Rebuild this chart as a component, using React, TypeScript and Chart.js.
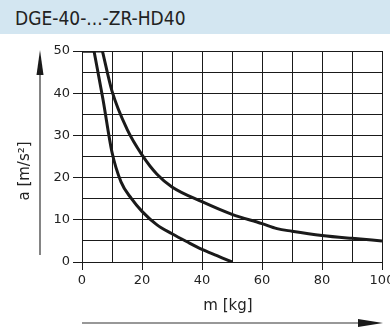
import React, { useEffect, useRef } from "react";
import { Chart, registerables } from "chart.js";

Chart.register(...registerables);

const title = "DGE-40-...-ZR-HD40";
const xTitle = "m [kg]";
const yTitle = "a [m/s²]";

// inner curve (smaller load)
const innerFlatX = [0, 4];
const innerFlatY = [50, 50];
const innerX = [4, 7, 10, 13, 16.5, 20, 25, 30, 35, 40, 45, 50];
const innerY = [50, 38.5, 26, 19, 15, 12, 8.8, 6.7, 4.8, 3, 1.5, 0];

// outer curve
const outerFlatX = [0, 6.8];
const outerFlatY = [50, 50];
const outerX = [6.8, 10, 15, 20, 25, 30, 40, 50, 60, 65, 70, 80, 90, 100];
const outerY = [50, 40.5, 31.5, 25.4, 20.8, 17.8, 14.3, 11.3, 9.1, 7.9, 7.3, 6.3, 5.6, 5];

const toPts = (xs: number[], ys: number[]) => xs.map((x, i) => ({ x, y: ys[i] }));

const FONT = "'DejaVu Sans', sans-serif";
const INK = "#1a1a1a";

const decor = {
  id: "decor",
  afterDraw(chart: any) {
    const { ctx, chartArea } = chart;
    ctx.save();
    ctx.fillStyle = INK;
    ctx.strokeStyle = "#333";
    // y arrow
    ctx.lineWidth = 1.2;
    ctx.beginPath();
    ctx.moveTo(40, 72);
    ctx.lineTo(40, chartArea.bottom - 7);
    ctx.stroke();
    ctx.beginPath();
    ctx.moveTo(40, chartArea.top - 1);
    ctx.lineTo(36.5, 75);
    ctx.lineTo(43.5, 75);
    ctx.closePath();
    ctx.fill();
    // y title
    ctx.save();
    ctx.translate(25, 171);
    ctx.rotate(-Math.PI / 2);
    ctx.font = `15px ${FONT}`;
    ctx.textAlign = "center";
    ctx.textBaseline = "middle";
    ctx.fillStyle = "#222";
    ctx.fillText(yTitle, 0, 0);
    ctx.restore();
    // x title
    ctx.font = `15px ${FONT}`;
    ctx.textAlign = "center";
    ctx.textBaseline = "middle";
    ctx.fillStyle = "#222";
    ctx.fillText(xTitle, 228, 306);
    // x arrow
    ctx.strokeStyle = "#333";
    ctx.beginPath();
    ctx.moveTo(chartArea.left, 323);
    ctx.lineTo(360, 323);
    ctx.stroke();
    ctx.fillStyle = INK;
    ctx.beginPath();
    ctx.moveTo(chartArea.right + 1, 323);
    ctx.lineTo(358, 319);
    ctx.lineTo(358, 327);
    ctx.closePath();
    ctx.fill();
    ctx.restore();
  },
};

export default function App() {
  const ref = useRef<HTMLCanvasElement>(null);
  useEffect(() => {
    document.body.style.margin = "0";
    const lineDs = (xs: number[], ys: number[], tension: boolean) => ({
      data: toPts(xs, ys),
      borderColor: INK,
      borderWidth: 3,
      pointRadius: 0,
      fill: false,
      cubicInterpolationMode: tension ? "monotone" : "default",
      tension: 0,
    });
    const chart = new Chart(ref.current!, {
      type: "line",
      data: {
        datasets: [
          lineDs(innerFlatX, innerFlatY, false),
          lineDs(innerX, innerY, true),
          lineDs(outerFlatX, outerFlatY, false),
          lineDs(outerX, outerY, true),
        ] as any,
      },
      options: {
        animation: false,
        responsive: false,
        layout: { padding: { left: 0, top: 51, right: 8, bottom: 0 } },
        plugins: { legend: { display: false }, tooltip: { enabled: false } },
        scales: {
          x: {
            type: "linear",
            min: 0,
            max: 100,
            ticks: {
              stepSize: 10,
              autoSkip: false,
              maxRotation: 0,
              padding: 3,
              color: "#222",
              font: { family: FONT, size: 13 },
              callback: (v: any) => (v % 20 === 0 ? String(v) : ""),
            },
            grid: {
              color: INK,
              lineWidth: 1,
              tickLength: 8,
              tickColor: (c: any) => (c.tick && c.tick.value % 20 === 0 ? INK : "rgba(0,0,0,0)"),
            },
            border: { display: true, color: INK, width: 1 },
            afterFit: (s: any) => {
              s.height = 333 - 262;
              s.paddingLeft = 0;
              s.paddingRight = 0;
            },
          },
          y: {
            min: 0,
            max: 50,
            ticks: {
              stepSize: 5,
              autoSkip: false,
              padding: 3,
              color: "#222",
              font: { family: FONT, size: 13 },
              callback: (v: any) => (v % 10 === 0 ? String(v) : ""),
            },
            grid: {
              color: INK,
              lineWidth: 1,
              tickLength: 9,
              tickColor: (c: any) => (c.tick && c.tick.value % 10 === 0 ? INK : "rgba(0,0,0,0)"),
            },
            border: { display: true, color: INK, width: 1 },
            afterFit: (s: any) => {
              s.width = 82;
              s.paddingTop = 0;
              s.paddingBottom = 0;
            },
          },
        },
      } as any,
      plugins: [decor],
    });
    return () => chart.destroy();
  }, []);
  return (
    <div style={{ position: "relative", width: 390, height: 333, background: "#fff", overflow: "hidden" }}>
      <div
        style={{
          position: "absolute",
          left: 0,
          top: 0,
          width: 390,
          height: 34,
          background: "#d3e6f1",
          fontFamily: "'Liberation Sans Narrow', 'DejaVu Sans Condensed', sans-serif",
          fontSize: 19,
          color: "#222",
          lineHeight: "36px",
          paddingLeft: 15,
          boxSizing: "border-box",
        }}
      >
        {title}
      </div>
      <canvas ref={ref} width={390} height={333} style={{ position: "absolute", left: 0, top: 0 }} />
    </div>
  );
}
